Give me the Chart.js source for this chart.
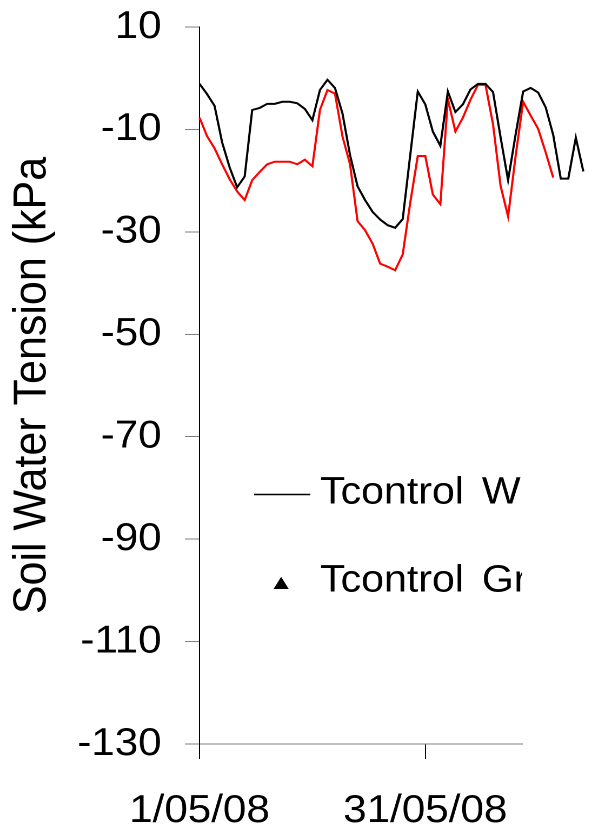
<!DOCTYPE html>
<html>
<head>
<meta charset="utf-8">
<script src="https://cdn.jsdelivr.net/npm/chart.js@4.4.1/dist/chart.umd.min.js"></script>
<style>
  html, body { margin: 0; padding: 0; background: #fff; overflow: hidden; }
  /* the original figure is slightly stretched sideways */
  #wrap { width: 546px; height: 830px; transform: scaleX(1.0813); transform-origin: 0 0; }
</style>
</head>
<body>
<div id="wrap"><canvas id="tensionChart" width="546" height="830"></canvas></div>
<script>
// day 0 = 1 May 2008, one reading per day
var tickDays = [0, 30];
var tickLabels = ['1/05/08', '31/05/08'];

// Tcontrol W (black line)
var wValues = [
  -1.1, -3.1, -5.4, -12.5, -17.4, -21.3, -19.2, -6.2, -5.8, -5.0,
  -5.0, -4.6, -4.6, -4.9, -6.0, -8.2, -2.3, -0.3, -1.9, -6.9,
  -15.0, -21.1, -23.8, -26.1, -27.6, -28.7, -29.2, -27.5, -15.0, -2.6,
  -5.1, -10.4, -13.2, -2.6, -6.6, -5.1, -2.2, -1.1, -1.1, -2.7,
  -11.5, -19.9, -11.0, -2.6, -1.9, -2.8, -5.7, -11.1, -19.6, -19.6,
  -11.6, -18.2
];

// red series
var redValues = [
  -7.7, -11.3, -13.7, -16.8, -19.7, -22.1, -23.8, -19.9, -18.3, -16.8,
  -16.3, -16.3, -16.3, -16.8, -15.9, -17.2, -6.2, -2.3, -3.0, -11.4,
  -16.8, -27.9, -29.7, -32.3, -36.2, -36.8, -37.5, -34.4, -24.3, -15.2,
  -15.2, -22.7, -24.6, -4.1, -10.4, -7.7, -4.2, -1.3, -1.3, -9.0,
  -21.0, -27.0, -15.2, -4.6, -7.3, -9.9, -14.5, -19.4
];

// Tcontrol Gr (triangle markers)
var grDays = [48];
var grValues = [-17.0];

var fontFamily = '"Liberation Sans", Arial, Helvetica, sans-serif';
Chart.defaults.font.family = fontFamily;
Chart.defaults.color = '#000';

function toPoints(values, days) {
  return values.map(function (v, i) {
    return { x: days ? days[i] : i, y: v };
  });
}

// legend sits inside the plot and is cut by the plot edge
var legendEntries = [1, 0];
var insideLegend = {
  id: 'insideLegend',
  afterDatasetsDraw: function (chart) {
    var ctx = chart.ctx;
    var area = chart.chartArea;
    ctx.save();
    ctx.beginPath();
    ctx.rect(area.left, area.top, area.right - area.left, area.bottom - area.top);
    ctx.clip();
    ctx.font = '38px ' + fontFamily;
    ctx.textBaseline = 'middle';
    var wide = 'wordSpacing' in ctx;
    if (wide) ctx.wordSpacing = '6px';
    legendEntries.forEach(function (idx, i) {
      var ds = chart.data.datasets[idx];
      var y = 494 + i * 88;
      if (ds.showLine === false) {
        ctx.fillStyle = '#000';
        Chart.helpers.drawPoint(ctx, {
          pointStyle: 'triangle', radius: ds.pointRadius, rotation: 0, borderWidth: 0
        }, 260, y + 3);
        ctx.fill();
      } else {
        ctx.strokeStyle = ds.borderColor;
        ctx.lineWidth = 1.5;
        ctx.beginPath();
        ctx.moveTo(235, y + 0.5);
        ctx.lineTo(287, y + 0.5);
        ctx.stroke();
      }
      ctx.fillStyle = '#000';
      if (wide) {
        ctx.fillText(ds.label, 296, y - 1);
      } else {
        // no wordSpacing support: place the words by hand
        var x = 296;
        var space = ctx.measureText(' ').width + 6;
        ds.label.split(' ').forEach(function (word) {
          ctx.fillText(word, x, y - 1);
          x += ctx.measureText(word).width + space;
        });
      }
    });
    ctx.restore();
  }
};

var ctx = document.getElementById('tensionChart').getContext('2d');
var tensionChart = new Chart(ctx, {
  type: 'line',
  data: {
    datasets: [
      {
        label: 'Tcontrol Gr',
        data: toPoints(grValues, grDays),
        showLine: false,
        pointStyle: 'triangle',
        pointRadius: 8,
        pointBackgroundColor: '#000',
        pointBorderColor: '#000',
        pointBorderWidth: 0,
        clip: false
      },
      {
        label: 'Tcontrol W',
        data: toPoints(wValues),
        borderColor: '#000',
        borderWidth: 2,
        pointRadius: 0,
        tension: 0,
        clip: false
      },
      {
        label: 'Series 3',
        data: toPoints(redValues),
        borderColor: '#ff0000',
        borderWidth: 2,
        pointRadius: 0,
        tension: 0,
        clip: false
      }
    ]
  },
  options: {
    responsive: false,
    animation: false,
    devicePixelRatio: 2,
    layout: { padding: { top: 27, right: 63.25, left: 0, bottom: 0 } },
    plugins: {
      legend: { display: false },
      tooltip: { enabled: false }
    },
    scales: {
      x: {
        type: 'linear',
        bounds: 'data',
        afterDataLimits: function (s) { s.min = 0; s.max = 42.85; },
        afterBuildTicks: function (s) {
          s.ticks = tickDays.map(function (d) { return { value: d }; });
        },
        ticks: {
          callback: function (v) { return tickLabels[tickDays.indexOf(v)]; },
          font: { size: 39 },
          color: '#000',
          padding: 29,
          maxRotation: 0,
          autoSkip: false
        },
        grid: { drawOnChartArea: false, tickLength: 15, color: '#000', lineWidth: 1 },
        border: { color: '#808080', width: 1 },
        afterFit: function (s) {
          s.height = 86;
          s.paddingLeft = 0;
          s.paddingRight = 0;
        }
      },
      y: {
        min: -130,
        max: 10,
        ticks: { stepSize: 20, font: { size: 39 }, color: '#000', padding: 21.5 },
        grid: { drawOnChartArea: false, tickLength: 13.5, color: '#808080', lineWidth: 1 },
        border: { color: '#000', width: 1 },
        title: {
          display: true,
          text: 'Soil Water Tension (kPa',
          font: { size: 43 },
          color: '#000',
          padding: { top: 4.5, bottom: 0 }
        },
        afterFit: function (s) {
          s.width = 184.5;
          s.paddingTop = 0;
          s.paddingBottom = 0;
        }
      }
    }
  },
  plugins: [insideLegend]
});
</script>
</body>
</html>
